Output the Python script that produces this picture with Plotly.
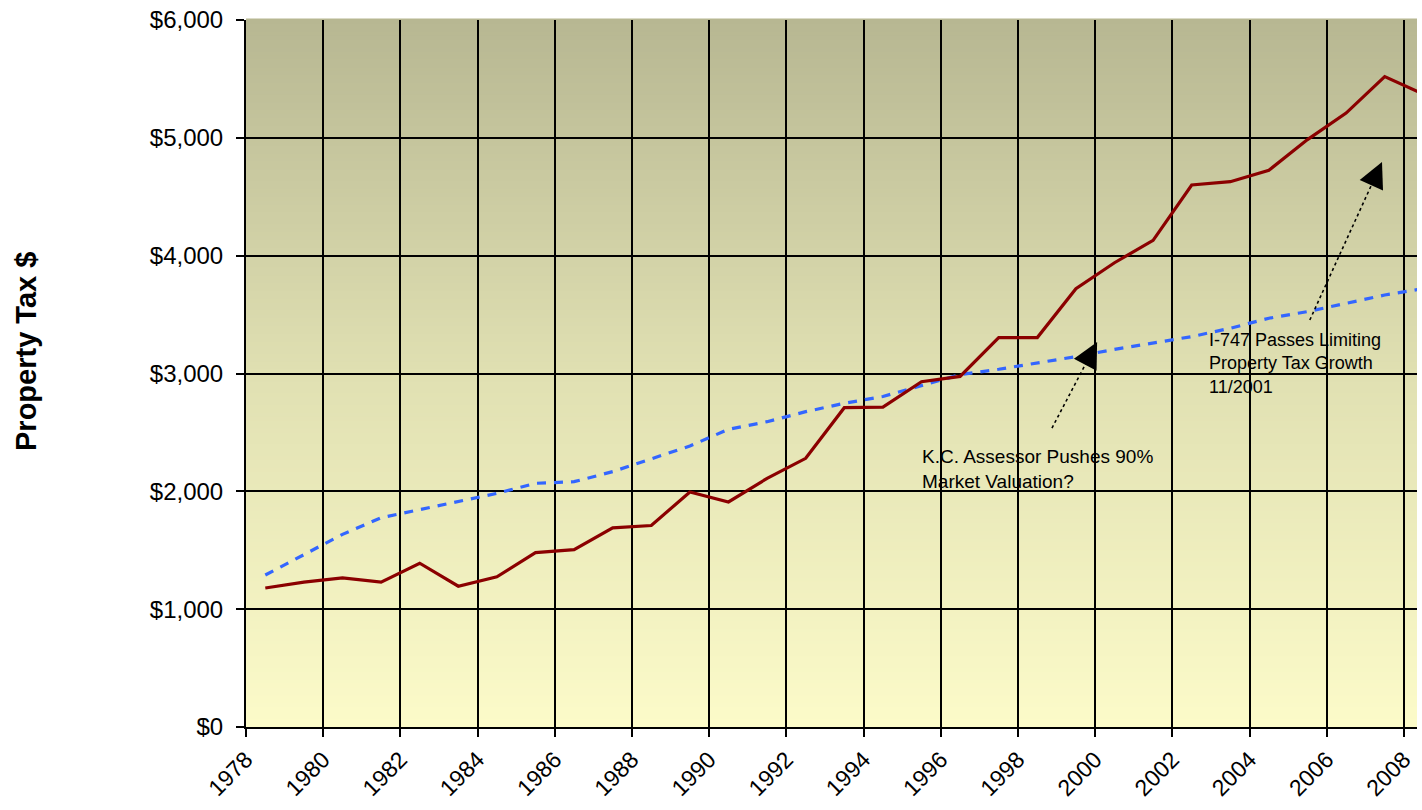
import plotly.graph_objects as go

# ---------------- data ----------------
years = list(range(1978, 2009))
property_tax = [1180, 1230, 1265, 1230, 1390, 1195, 1275, 1480, 1505, 1690,
                1710, 1995, 1910, 2110, 2280, 2710, 2715, 2930, 2975, 3305,
                3305, 3720, 3940, 4130, 4600, 4628, 4725, 4985, 5210, 5520,
                5370]
inflation_trend = [1290, 1460, 1635, 1776, 1847, 1912, 1983, 2068, 2082, 2167,
                   2274, 2385, 2526, 2591, 2676, 2747, 2805, 2900, 2990, 3036,
                   3087, 3143, 3205, 3256, 3313, 3384, 3469, 3525, 3596, 3666,
                   3720]
tick_years = list(range(1978, 2010, 2))
y_ticks = [0, 1000, 2000, 3000, 4000, 5000, 6000]
y_tick_labels = ["$0", "$1,000", "$2,000", "$3,000", "$4,000", "$5,000", "$6,000"]

# category centres (Excel-style: points sit in the middle of each year slot)
x_centres = [y + 0.5 for y in years]

W, H = 1422, 810
L, R, T, B = 246, 5, 20, 83
x_min = 1978
x_max = 1978 + (W - L - R) / 38.6
FONT = "Liberation Sans, Arial, sans-serif"

fig = go.Figure()

fig.add_trace(go.Scatter(
    x=x_centres, y=inflation_trend, mode="lines",
    line=dict(color="#3366ff", width=3.2, dash="9px,8px"),
    showlegend=False, hoverinfo="skip"))
fig.add_trace(go.Scatter(
    x=x_centres, y=property_tax, mode="lines",
    line=dict(color="#8b0000", width=3.2),
    showlegend=False, hoverinfo="skip"))

# vertical gradient background (drawn below grid lines)
top = (183, 183, 146)
mid = (224, 224, 178)
bot = (252, 251, 201)
n = 180
shapes = []
for i in range(n):
    f = (i + 0.5) / n  # 0 bottom -> 1 top
    if f < 0.5:
        g = f / 0.5
        c = tuple(round(bot[k] + (mid[k] - bot[k]) * g) for k in range(3))
    else:
        g = (f - 0.5) / 0.5
        c = tuple(round(mid[k] + (top[k] - mid[k]) * g) for k in range(3))
    shapes.append(dict(type="rect", xref="paper", yref="paper",
                       x0=0, x1=1, y0=i / n, y1=(i + 1) / n + 0.002,
                       fillcolor="rgb(%d,%d,%d)" % c, line=dict(width=0),
                       layer="below"))

# dotted arrow shafts
arrows = [
    ((1998.88, 2537), (2000.05, 3267)),
    ((2005.56, 3454), (2007.43, 4795)),
]
for (x0, y0), (x1, y1) in arrows:
    shapes.append(dict(type="line", xref="x", yref="y", x0=x0, y0=y0,
                       x1=x0 + (x1 - x0) * 0.9, y1=y0 + (y1 - y0) * 0.9,
                       line=dict(color="black", width=1.6, dash="dot")))

annotations = []
for (x0, y0), (x1, y1) in arrows:
    annotations.append(dict(x=x1, y=y1, xref="x", yref="y",
                            axref="x", ayref="y", ax=x0 + (x1 - x0) * 0.85,
                            ay=y0 + (y1 - y0) * 0.85, text="", showarrow=True,
                            arrowhead=2, arrowsize=3.2, arrowwidth=1.6,
                            arrowcolor="black"))

annotations.append(dict(
    x=1995.45, y=2400, xref="x", yref="y", xanchor="left", yanchor="top",
    align="left", showarrow=False,
    text="K.C. Assessor Pushes 90%<br>Market Valuation?",
    font=dict(family=FONT, size=19, color="black")))
annotations.append(dict(
    x=2002.9, y=3385, xref="x", yref="y", xanchor="left", yanchor="top",
    align="left", showarrow=False,
    text="I-747 Passes Limiting<br>Property Tax Growth<br>11/2001",
    font=dict(family=FONT, size=18, color="black")))
annotations.append(dict(
    x=(26 - L) / (W - L - R), y=(H - B - 352) / (H - T - B),
    xref="paper", yref="paper", xanchor="center", yanchor="middle",
    showarrow=False, textangle=-90,
    text="<b>Property Tax $</b>",
    font=dict(family=FONT, size=29, color="black")))

fig.update_layout(
    width=W, height=H,
    margin=dict(l=L, r=R, t=T, b=B, pad=0, autoexpand=False),
    paper_bgcolor="white", plot_bgcolor="rgb(224,224,178)",
    shapes=shapes, annotations=annotations,
    font=dict(family=FONT, color="black"),
)
fig.update_xaxes(
    range=[x_min, x_max], tickvals=tick_years,
    ticktext=[str(t) for t in tick_years], tickangle=-45,
    tickfont=dict(family=FONT, size=23, color="black"),
    ticks="outside", ticklen=8, tickwidth=1.6, tickcolor="black",
    showgrid=True, gridcolor="black", gridwidth=1.6,
    showline=True, linecolor="black", linewidth=2, zeroline=False,
    automargin=False, ticklabeloverflow="allow",
)
fig.update_yaxes(
    range=[0, 6000], tickvals=y_ticks, ticktext=y_tick_labels,
    tickfont=dict(family=FONT, size=24, color="black"),
    ticks="outside", ticklen=8, tickwidth=1.6, tickcolor="black",
    showgrid=True, gridcolor="black", gridwidth=1.6,
    showline=True, linecolor="black", linewidth=2, zeroline=False,
    ticklabelstandoff=8, automargin=False, ticklabeloverflow="allow",
)

fig.write_html("out.html",
               config={"displayModeBar": False},
               post_script="document.body.style.margin='0';"
                           "document.body.style.overflow='hidden';")
